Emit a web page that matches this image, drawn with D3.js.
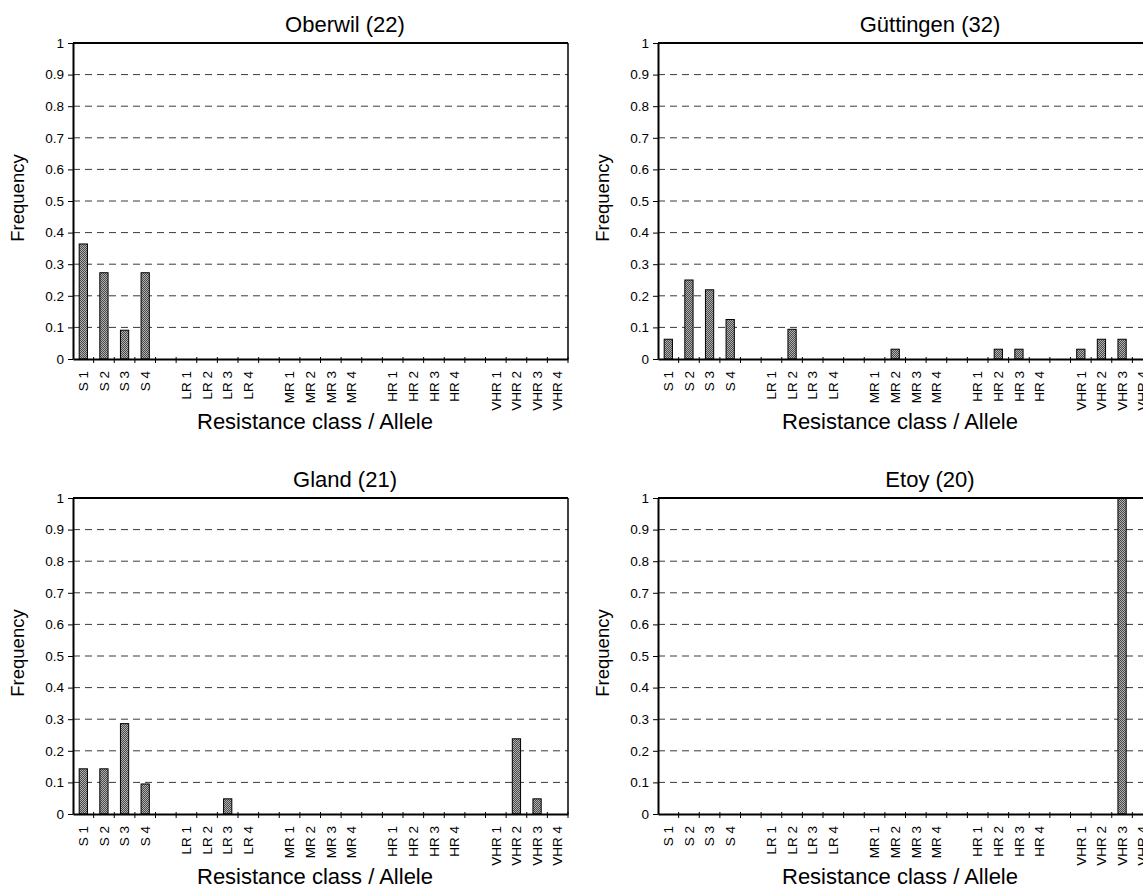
<!DOCTYPE html>
<html>
<head>
<meta charset="utf-8">
<title>Resistance class / Allele frequencies</title>
<script src="https://d3js.org/d3.v7.min.js"></script>
<style>
  html, body { margin: 0; padding: 0; background: #fff; overflow: hidden; }
  svg { display: block; font-family: "Liberation Sans", Arial, sans-serif; }
</style>
</head>
<body>
<div id="chart"></div>
<script>
// categories along the x axis (gap entries are the empty slots between classes)
const categories = ["S 1", "S 2", "S 3", "S 4", "gap1",
                    "LR 1", "LR 2", "LR 3", "LR 4", "gap2",
                    "MR 1", "MR 2", "MR 3", "MR 4", "gap3",
                    "HR 1", "HR 2", "HR 3", "HR 4", "gap4",
                    "VHR 1", "VHR 2", "VHR 3", "VHR 4"];

const yTicks = [0, 0.1, 0.2, 0.3, 0.4, 0.5, 0.6, 0.7, 0.8, 0.9, 1];

const sites = ["Oberwil (22)", "Güttingen (32)", "Gland (21)", "Etoy (20)"];

// frequencies, one value per category (same order as above)
const oberwil   = [0.364, 0.273, 0.091, 0.273, 0,  0, 0, 0, 0, 0,  0, 0, 0, 0, 0,  0, 0, 0, 0, 0,  0, 0, 0, 0];
const guttingen = [0.0625, 0.25, 0.219, 0.125, 0,  0, 0.094, 0, 0, 0,  0, 0.031, 0, 0, 0,  0, 0.031, 0.031, 0, 0,  0.031, 0.0625, 0.0625, 0];
const gland     = [0.143, 0.143, 0.286, 0.095, 0,  0, 0, 0.048, 0, 0,  0, 0, 0, 0, 0,  0, 0, 0, 0, 0,  0, 0.238, 0.048, 0];
const etoy      = [0, 0, 0, 0, 0,  0, 0, 0, 0, 0,  0, 0, 0, 0, 0,  0, 0, 0, 0, 0,  0, 0, 1, 0];

const siteValues = [oberwil, guttingen, gland, etoy];

const W = 1143, H = 890;
const plotW = 495, plotH = 316;
const origins = [{x: 73, y: 43}, {x: 658, y: 43}, {x: 73, y: 498}, {x: 658, y: 498}];

const svg = d3.select("#chart").append("svg")
    .attr("width", W).attr("height", H);

// stippled grey fill for the bars
const pat = svg.append("defs").append("pattern")
    .attr("id", "stipple").attr("width", 2).attr("height", 2)
    .attr("patternUnits", "userSpaceOnUse");
pat.append("rect").attr("width", 2).attr("height", 2).attr("fill", "#b0b0b0");
pat.append("rect").attr("width", 1).attr("height", 1).attr("fill", "#4a4a4a");
pat.append("rect").attr("x", 1).attr("y", 1).attr("width", 1).attr("height", 1).attr("fill", "#4a4a4a");

const x = d3.scaleBand().domain(categories).range([0, plotW]).padding(0);
const y = d3.scaleLinear().domain([0, 1]).range([plotH, 0]);

sites.forEach(function(site, i) {
    const o = origins[i];
    const vals = siteValues[i];
    const data = categories.map((c, k) => ({cat: c, v: vals[k]}));

    const g = svg.append("g").attr("transform", "translate(" + o.x + "," + o.y + ")");

    // dashed gridlines
    g.selectAll(".grid").data(yTicks.filter(t => t > 0 && t < 1)).enter()
        .append("line")
        .attr("x1", 0).attr("x2", plotW)
        .attr("y1", d => y(d)).attr("y2", d => y(d))
        .attr("stroke", "#3a3a3a").attr("stroke-width", 1)
        .attr("stroke-dasharray", "7,5");

    // bars
    const bw = x.bandwidth() * 0.4;
    g.selectAll(".bar").data(data.filter(d => d.v > 0)).enter()
        .append("rect")
        .attr("x", d => x(d.cat) + (x.bandwidth() - bw) / 2)
        .attr("y", d => y(d.v))
        .attr("width", bw)
        .attr("height", d => y(0) - y(d.v))
        .attr("fill", "url(#stipple)")
        .attr("stroke", "#000").attr("stroke-width", 1);

    // frame (top and right)
    g.append("line").attr("x1", 0).attr("x2", plotW).attr("y1", 0).attr("y2", 0)
        .attr("stroke", "#000").attr("stroke-width", 2);
    g.append("line").attr("x1", plotW).attr("x2", plotW).attr("y1", 0).attr("y2", plotH)
        .attr("stroke", "#000").attr("stroke-width", 1.5);

    // y axis
    const yAxis = d3.axisLeft(y).tickValues(yTicks).tickSize(5).tickSizeOuter(0)
        .tickFormat(d => d === 0 ? "0" : d === 1 ? "1" : d3.format(".1f")(d));
    const ya = g.append("g").call(yAxis);
    ya.select(".domain").attr("stroke-width", 2);
    ya.selectAll("text").attr("font-size", "13.5px").attr("fill", "#000").attr("x", -9)
        .attr("font-family", "'Liberation Sans', Arial, sans-serif");

    // x axis: labels at band centres, ticks at band boundaries
    const xAxis = d3.axisBottom(x).tickSize(0).tickSizeOuter(0)
        .tickFormat(d => d.startsWith("gap") ? "" : d);
    const xa = g.append("g").attr("transform", "translate(0," + plotH + ")").call(xAxis);
    xa.select(".domain").attr("stroke-width", 2);
    xa.selectAll("text")
        .attr("font-size", "13.5px").attr("fill", "#000")
        .attr("font-family", "'Liberation Sans', Arial, sans-serif")
        .attr("transform", "rotate(-90)")
        .attr("text-anchor", "end")
        .attr("x", -12).attr("y", 0).attr("dy", "0.35em");

    const bounds = categories.map(c => x(c)).concat([x(categories[categories.length - 1]) + x.bandwidth()]);
    xa.selectAll(".btick").data(bounds.slice(1)).enter()
        .append("line")
        .attr("x1", d => d).attr("x2", d => d)
        .attr("y1", -2).attr("y2", 4)
        .attr("stroke", "#000").attr("stroke-width", 1);

    // title
    g.append("text")
        .attr("x", 272).attr("y", -11)
        .attr("text-anchor", "middle")
        .attr("font-size", "22px")
        .text(site);

    // axis titles
    g.append("text")
        .attr("x", 242).attr("y", plotH + 70)
        .attr("text-anchor", "middle")
        .attr("font-size", "22px")
        .text("Resistance class / Allele");

    g.append("text")
        .attr("transform", "rotate(-90)")
        .attr("x", -plotH / 2 + 3).attr("y", -49)
        .attr("text-anchor", "middle")
        .attr("font-size", "18.5px")
        .text("Frequency");
});
</script>
</body>
</html>
